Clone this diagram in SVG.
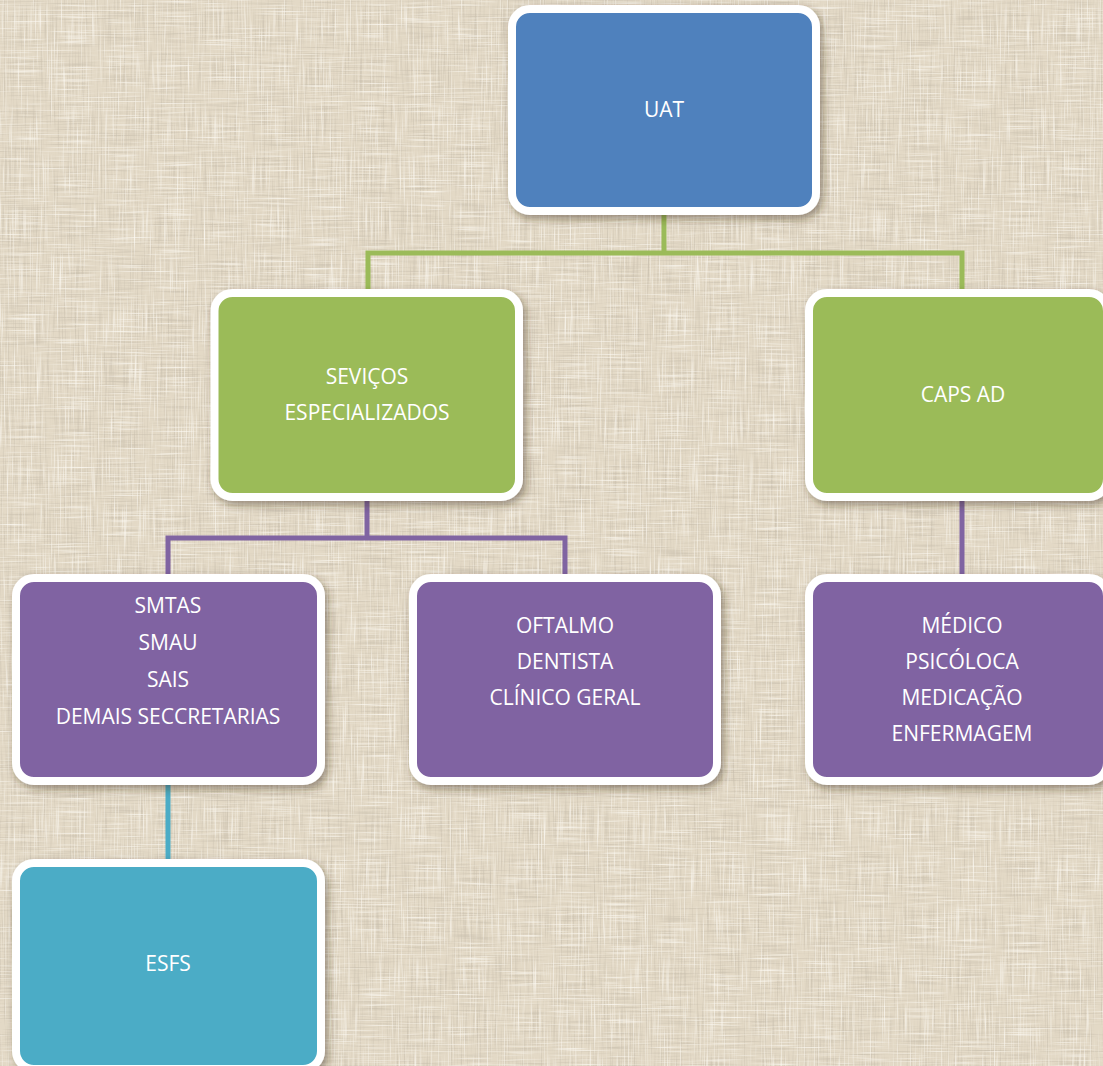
<svg xmlns="http://www.w3.org/2000/svg" width="1103" height="1066" viewBox="0 0 1103 1066">
  <defs>
    <filter id="linen" x="0" y="0" width="1103" height="1066" filterUnits="userSpaceOnUse">
      <feTurbulence type="fractalNoise" baseFrequency="0.7 0.02" numOctaves="2" seed="4" result="v"/>
      <feTurbulence type="fractalNoise" baseFrequency="0.02 0.7" numOctaves="2" seed="9" result="h"/>
      <feColorMatrix in="v" type="matrix" values="0 0 0 0 0.58  0 0 0 0 0.52  0 0 0 0 0.42  2.0 0 0 0 -1.06" result="vd"/>
      <feColorMatrix in="v" type="matrix" values="0 0 0 0 0.98  0 0 0 0 0.96  0 0 0 0 0.91  -2.2 0 0 0 0.97" result="vl"/>
      <feColorMatrix in="h" type="matrix" values="0 0 0 0 0.58  0 0 0 0 0.52  0 0 0 0 0.42  2.0 0 0 0 -1.06" result="hd"/>
      <feColorMatrix in="h" type="matrix" values="0 0 0 0 0.98  0 0 0 0 0.96  0 0 0 0 0.91  -2.2 0 0 0 0.97" result="hl"/>
      <feMerge>
        <feMergeNode in="vd"/>
        <feMergeNode in="hl"/>
        <feMergeNode in="hd"/>
        <feMergeNode in="vl"/>
      </feMerge>
    </filter>
    <filter id="shadow" x="-10%" y="-10%" width="125%" height="130%">
      <feDropShadow dx="3" dy="4" stdDeviation="4" flood-color="#3a2f1e" flood-opacity="0.45"/>
    </filter>
  </defs>
  <style>
    .box { stroke: #ffffff; stroke-width: 8; filter: url(#shadow); }
    .blue { fill: #4F81BD; }
    .green { fill: #9BBB59; }
    .purple { fill: #8064A2; }
    .teal { fill: #4BACC6; }
    .lbl { font-family: "Open Sans", "Noto Sans", "Liberation Sans", sans-serif; font-size: 21px; fill: #ffffff; text-anchor: middle; }
    .conn { fill: none; stroke-width: 5; stroke-linecap: butt; stroke-linejoin: miter; }
  </style>

  <rect x="0" y="0" width="1103" height="1066" fill="#E3D9C6"/>
  <rect x="0" y="0" width="1103" height="1066" fill="#E3D9C6" filter="url(#linen)"/>

  <g id="connectors">
    <path class="conn" stroke="#9BBB59" d="M664 211 V253 M367.5 253 H962.5 M368 250.5 V293 M962 250.5 V293"/>
    <path class="conn" stroke="#8064A2" d="M367 497 V538 M165.5 538 H567.5 M168 535.5 V578 M565 535.5 V578 M962 497 V578"/>
    <path class="conn" stroke="#4BACC6" d="M168 781 V863"/>
  </g>

  <g id="node-uat">
    <rect class="box blue" x="512" y="9" width="304" height="202" rx="18"/>
    <text class="lbl" x="664" y="117">UAT</text>
  </g>

  <g id="node-servicos">
    <rect class="box green" x="214.5" y="293" width="304.5" height="204" rx="18"/>
    <text class="lbl" x="367" y="384">SEVIÇOS</text>
    <text class="lbl" x="367" y="420">ESPECIALIZADOS</text>
  </g>

  <g id="node-caps">
    <rect class="box green" x="809" y="293" width="298" height="204" rx="18"/>
    <text class="lbl" x="963" y="402">CAPS AD</text>
  </g>

  <g id="node-secretarias">
    <rect class="box purple" x="16" y="578" width="305" height="203" rx="18"/>
    <text class="lbl" x="168" y="613">SMTAS</text>
    <text class="lbl" x="168" y="650">SMAU</text>
    <text class="lbl" x="168" y="687">SAIS</text>
    <text class="lbl" x="168" y="724">DEMAIS SECCRETARIAS</text>
  </g>

  <g id="node-oftalmo">
    <rect class="box purple" x="413" y="578" width="304" height="203" rx="18"/>
    <text class="lbl" x="565" y="633">OFTALMO</text>
    <text class="lbl" x="565" y="669">DENTISTA</text>
    <text class="lbl" x="565" y="705">CLÍNICO GERAL</text>
  </g>

  <g id="node-medico">
    <rect class="box purple" x="809" y="578" width="298" height="203" rx="18"/>
    <text class="lbl" x="962" y="633">MÉDICO</text>
    <text class="lbl" x="962" y="669">PSICÓLOCA</text>
    <text class="lbl" x="962" y="705">MEDICAÇÃO</text>
    <text class="lbl" x="962" y="741">ENFERMAGEM</text>
  </g>

  <g id="node-esfs">
    <rect class="box teal" x="16" y="863" width="305" height="206" rx="18"/>
    <text class="lbl" x="168" y="971">ESFS</text>
  </g>
</svg>
